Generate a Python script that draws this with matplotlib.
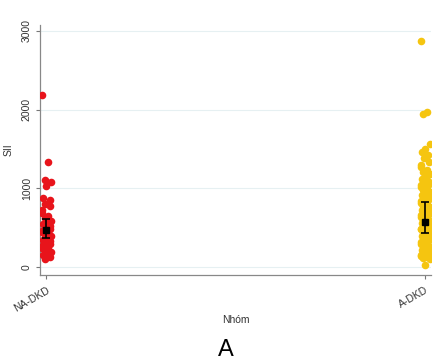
import matplotlib
matplotlib.use("Agg")
import matplotlib.pyplot as plt

plt.rcParams["font.family"] = ["Liberation Sans", "DejaVu Sans"]

# SII values, per group
groups = ["NA-DKD", "A-DKD"]

sii_na = [2180, 1330, 1110, 1080, 1030, 880, 850, 800, 780, 720, 690, 650,
          620, 590, 570, 550, 520, 500, 480, 460, 450, 430, 410, 390, 370,
          350, 330, 310, 290, 270, 250, 230, 210, 190, 170, 150, 130, 110]

sii_a = [2870, 1970, 1950, 1560, 1500, 1460, 1420, 1380, 1340, 1300, 1270,
         1240, 1210, 1180, 1150, 1120, 1100, 1080, 1060, 1040, 1020, 1000,
         980, 960, 940, 920, 900, 880, 860, 840, 820, 800, 780, 760, 740,
         720, 700, 690, 680, 660, 640, 620, 600, 590, 580, 560, 540, 520,
         500, 490, 480, 460, 440, 420, 400, 390, 380, 360, 340, 320, 300,
         290, 280, 260, 240, 220, 200, 190, 180, 160, 140, 130, 120, 100, 30]

# mean and 95% CI per group
means = [470, 580]
ci_low = [370, 430]
ci_high = [610, 830]

colors = ["#e8141b", "#f5c510"]

# fixed horizontal jitter pattern (axis units)
jit = [-0.010, 0.006, -0.004, 0.013, 0.0, -0.008, 0.009, -0.002, 0.011, -0.011]

fig = plt.figure(figsize=(4.41, 3.61), dpi=100)
ax = fig.add_axes([0.091, 0.238, 0.886, 0.694])

for i, vals in enumerate([sii_na, sii_a]):
    xs = [i + 1 + jit[k % len(jit)] for k in range(len(vals))]
    ax.scatter(xs, vals, s=30, color=colors[i], linewidths=0, zorder=3)

xpos = [1, 2]
ax.errorbar(xpos, means,
            yerr=[[m - l for m, l in zip(means, ci_low)],
                  [h - m for m, h in zip(means, ci_high)]],
            fmt="s", color="black", markersize=5, capsize=3,
            elinewidth=1.2, capthick=1.2, zorder=5)

ax.set_xlim(0.984, 2.016)
ax.set_ylim(-100, 3080)
ax.set_xticks(xpos)
ax.set_xticklabels(groups, rotation=30, ha="right", rotation_mode="anchor",
                   fontsize=7.5, color="#333333")
ax.set_yticks([0, 1000, 2000, 3000])
ax.set_yticklabels(["0", "1000", "2000", "3000"], rotation=90, va="center",
                   fontsize=7.5, color="#333333")
ax.tick_params(axis="y", length=3, width=0.8, color="#777777", pad=3)
ax.tick_params(axis="x", length=3, width=0.8, color="#777777", pad=4)

ax.grid(axis="y", color="#e6f0f2", linewidth=0.8)
ax.set_axisbelow(True)
for side in ["top", "right"]:
    ax.spines[side].set_visible(False)
for side in ["left", "bottom"]:
    ax.spines[side].set_color("#888888")
    ax.spines[side].set_linewidth(0.9)

ax.set_ylabel("SII", fontsize=7.5, color="#333333", labelpad=6)
ax.set_xlabel("Nhóm", fontsize=7.5, color="#333333", labelpad=1)

fig.text(0.513, 0.0, "A", fontsize=17, ha="center", va="bottom")

fig.savefig("out.png", dpi=100)
